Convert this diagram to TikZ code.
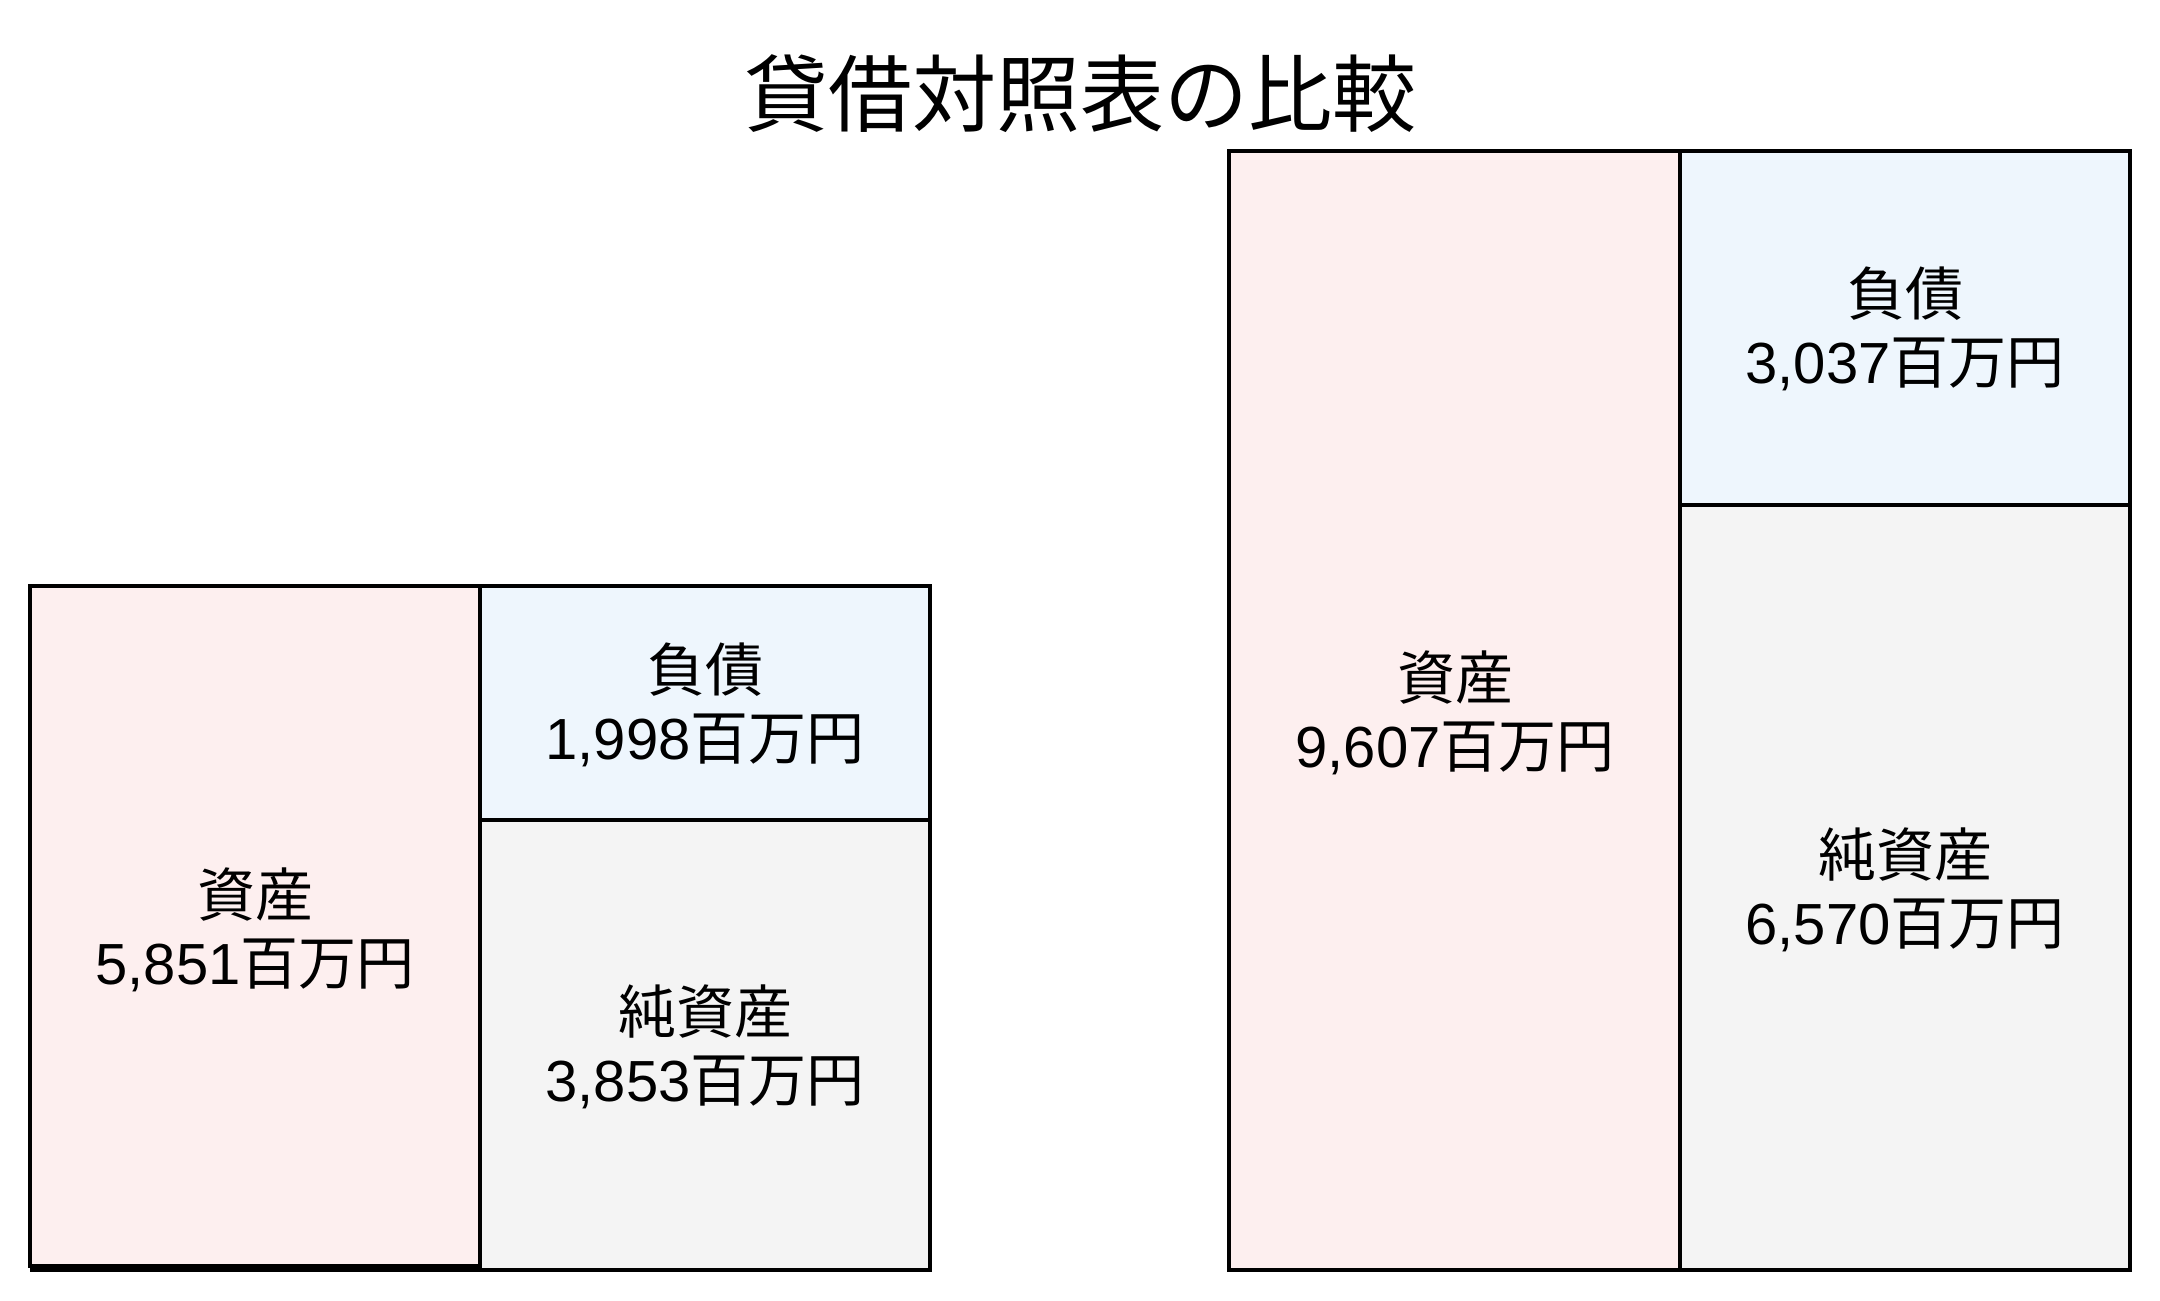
\documentclass[tikz,border=0pt]{standalone}
\usepackage{fontspec}
\setmainfont{Liberation Sans}
\newfontfamily\jp{Noto Sans CJK JP}
\definecolor{assetpink}{RGB}{253,239,239}
\definecolor{liabblue}{RGB}{238,246,253}
\definecolor{equitygray}{RGB}{244,244,244}
\begin{document}
\begin{tikzpicture}[x=0.25pt,y=-0.25pt,
  label/.style={align=center,inner sep=0pt,
    font=\fontsize{14.5pt}{16.9pt}\selectfont},
  frame/.style={line width=1.15pt,draw=black},
  title/.style={font=\jp\fontsize{21pt}{25pt}\selectfont,inner sep=0pt}]
\useasboundingbox (0,0) rectangle (2160,1300);
% title
\node[title] (ttl) at (1080,94) {貸借対照表の比較};
% left balance sheet
\filldraw[frame,fill=assetpink] (30,586) rectangle (480,1266);
\filldraw[frame,fill=liabblue] (480,586) rectangle (930,820);
\filldraw[frame,fill=equitygray] (480,820) rectangle (930,1270);
\draw[frame] (30,1270) -- (930,1270);
\node[label] (la) at (255,930) {{\jp 資産}\\5,851{\jp 百万円}};
\node[label] (ll) at (705,705) {{\jp 負債}\\1,998{\jp 百万円}};
\node[label] (le) at (705,1047) {{\jp 純資産}\\3,853{\jp 百万円}};
% right balance sheet
\filldraw[frame,fill=assetpink] (1229,151) rectangle (1680,1270);
\filldraw[frame,fill=liabblue] (1680,151) rectangle (2130,505);
\filldraw[frame,fill=equitygray] (1680,505) rectangle (2130,1270);
\node[label] (ra) at (1455,713) {{\jp 資産}\\9,607{\jp 百万円}};
\node[label] (rl) at (1905,329) {{\jp 負債}\\3,037{\jp 百万円}};
\node[label] (re) at (1905,890) {{\jp 純資産}\\6,570{\jp 百万円}};
\end{tikzpicture}
\end{document}
